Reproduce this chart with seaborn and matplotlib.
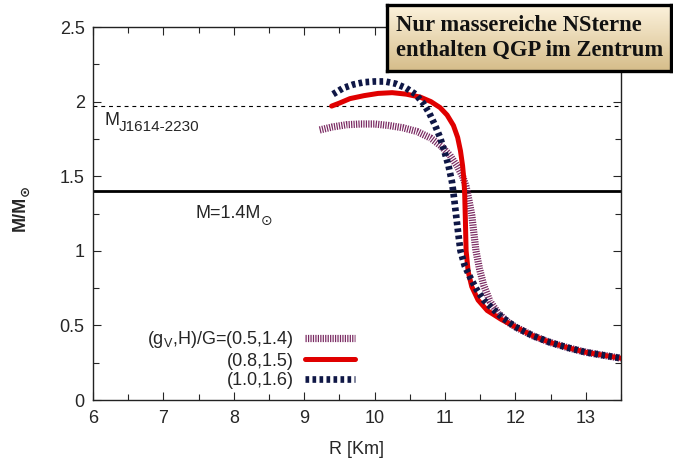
import matplotlib
matplotlib.use("Agg")
import matplotlib.pyplot as plt
import numpy as np
import pandas as pd
import seaborn as sns
from matplotlib.ticker import MultipleLocator

# --- data ---
r_a = [9.22, 9.4, 9.6, 9.8, 10.0, 10.2, 10.4, 10.6, 10.8, 10.95, 11.07, 11.17,
       11.25, 11.3, 11.34, 11.38, 11.41, 11.44, 11.49, 11.55, 11.64, 11.76,
       11.9, 12.0, 12.25, 12.5, 12.75, 13.0, 13.25, 13.5]
m_a = [1.81, 1.83, 1.845, 1.85, 1.85, 1.84, 1.825, 1.80, 1.755, 1.70, 1.64, 1.57,
       1.50, 1.43, 1.34, 1.24, 1.12, 1.00, 0.88, 0.77, 0.66, 0.58,
       0.52, 0.49, 0.43, 0.385, 0.35, 0.32, 0.30, 0.28]

r_b = [9.39, 9.5, 9.65, 9.85, 10.05, 10.25, 10.45, 10.65, 10.8, 10.93, 11.03,
       11.12, 11.18, 11.22, 11.25, 11.27, 11.28, 11.29, 11.3, 11.33, 11.38,
       11.47, 11.6, 11.8, 12.0, 12.25, 12.5, 12.75, 13.0, 13.25, 13.5]
m_b = [1.97, 1.99, 2.02, 2.04, 2.055, 2.06, 2.05, 2.03, 2.0, 1.96, 1.91,
       1.84, 1.76, 1.67, 1.57, 1.47, 1.38, 1.2, 1.0, 0.86, 0.76,
       0.67, 0.60, 0.54, 0.49, 0.43, 0.385, 0.35, 0.32, 0.30, 0.28]

r_c = [9.41, 9.55, 9.7, 9.85, 10.0, 10.15, 10.3, 10.45, 10.58, 10.69, 10.78,
       10.86, 10.93, 10.99, 11.05, 11.1, 11.13, 11.16, 11.19, 11.22, 11.28,
       11.36, 11.45, 11.55, 11.68, 11.82, 12.0, 12.25, 12.5, 12.75, 13.0,
       13.25, 13.5]
m_c = [2.05, 2.09, 2.115, 2.13, 2.135, 2.135, 2.12, 2.09, 2.05, 1.99, 1.92,
       1.84, 1.76, 1.67, 1.57, 1.46, 1.35, 1.23, 1.11, 1.0, 0.9,
       0.82, 0.74, 0.67, 0.61, 0.55, 0.49, 0.43, 0.385, 0.35, 0.32,
       0.30, 0.28]

labels = ["(g$_\\mathregular{V}$,H)/G=(0.5,1.4)", "(0.8,1.5)", "(1.0,1.6)"]
m_j1614 = 1.97
m_canonical = 1.4
box_text = "Nur massereiche NSterne\nenthalten QGP im Zentrum"

sns.set_theme(style="ticks")
plt.rcParams["font.family"] = ["Liberation Sans", "DejaVu Sans"]
plt.rcParams["mathtext.fontset"] = "custom"
plt.rcParams["mathtext.rm"] = "Liberation Sans"

fig = plt.figure(figsize=(6.73, 4.61), dpi=100)
ax = fig.add_axes([0.1382, 0.1323, 0.7845, 0.8091])

ax.axhline(m_j1614, color="black", lw=0.8, ls=(0, (3.5, 3.5)), zorder=1)
ax.axhline(m_canonical, color="black", lw=2.0, zorder=1)

styles = [
    dict(color="#7a2a62", lw=5.2, ls=(0, (0.17, 0.17))),
    dict(color="#e00000", lw=3.6, ls="-"),
    dict(color="#0f1746", lw=4.8, ls=(0, (0.55, 0.5))),
]
for r, m, lab, st in zip([r_a, r_b, r_c], [m_a, m_b, m_c], labels, styles):
    df = pd.DataFrame({"R": r, "M": m})
    sns.lineplot(data=df, x="R", y="M", sort=False, estimator=None, ax=ax,
                 label=lab, color=st["color"], linewidth=st["lw"],
                 linestyle=st["ls"])

ax.set_xlim(6, 13.5)
ax.set_ylim(0, 2.5)
ax.xaxis.set_major_locator(MultipleLocator(1))
ax.xaxis.set_minor_locator(MultipleLocator(0.5))
ax.yaxis.set_major_locator(MultipleLocator(0.5))
ax.yaxis.set_minor_locator(MultipleLocator(0.25))
ax.yaxis.set_major_formatter(matplotlib.ticker.FuncFormatter(lambda v, p: f"{v:g}"))
ax.tick_params(which="both", direction="in", top=True, right=True,
               width=0.8, labelsize=13)
ax.tick_params(which="major", length=6)
ax.tick_params(which="minor", length=4)
ax.tick_params(axis="x", pad=7)
ax.tick_params(axis="y", pad=6)
for sp in ax.spines.values():
    sp.set_linewidth(1.0)
    sp.set_color("#222222")

ax.set_xlabel("R [Km]", fontsize=13)
ax.xaxis.set_label_coords(0.5, -0.11)
ax.set_ylabel("")

# y label: M/M with sun symbol as subscript
ylab = ax.text(-0.138, 0.5, "M/M", transform=ax.transAxes, rotation=90,
               ha="center", va="center", fontsize=13, fontweight="bold")
ax.annotate("\u2299", xy=(1, 1), xycoords=ylab, xytext=(2.5, 0),
            textcoords="offset points", rotation=90, ha="right",
            va="bottom", fontsize=9.5, fontweight="bold",
            family="DejaVu Sans")

ax.text(6.17, 1.84, "M", fontsize=13, va="baseline")
ax.annotate("J1614-2230", xy=(6.17, 1.84), xytext=(10, -4),
            textcoords="offset points", fontsize=11, va="baseline")

mlab = ax.text(7.45, 1.25, "M=1.4M", fontsize=13, va="center")
ax.annotate("\u2299", xy=(1, 0), xycoords=mlab, xytext=(0.5, 1),
            textcoords="offset points", ha="left", va="center",
            fontsize=10, family="DejaVu Sans")

ax.legend(loc="lower right", bbox_to_anchor=(0.497, 0.03), frameon=False,
          markerfirst=False, fontsize=13, handlelength=2.8,
          handletextpad=0.6, labelspacing=0.12, borderpad=0,
          borderaxespad=0)

# headline box with gradient fill
bax = fig.add_axes([387 / 673, 1 - 71 / 461, 284 / 673, 66 / 461])
top = np.array([252, 242, 220]) / 255
bottom = np.array([214, 189, 138]) / 255
t = np.linspace(0, 1, 64)[:, None]
grad = (top * (1 - t) + bottom * t)[:, None, :]
bax.imshow(grad, aspect="auto", extent=(0, 1, 0, 1), origin="upper")
bax.set_xticks([])
bax.set_yticks([])
for sp in bax.spines.values():
    sp.set_linewidth(2.4)
    sp.set_color("black")
bax.text(0.032, 0.5, box_text, transform=bax.transAxes, ha="left",
         va="center", fontsize=16.3, fontweight="bold",
         family=["Liberation Serif", "DejaVu Serif"], linespacing=1.2,
         color="#111111")

fig.savefig("out.png", dpi=100)
